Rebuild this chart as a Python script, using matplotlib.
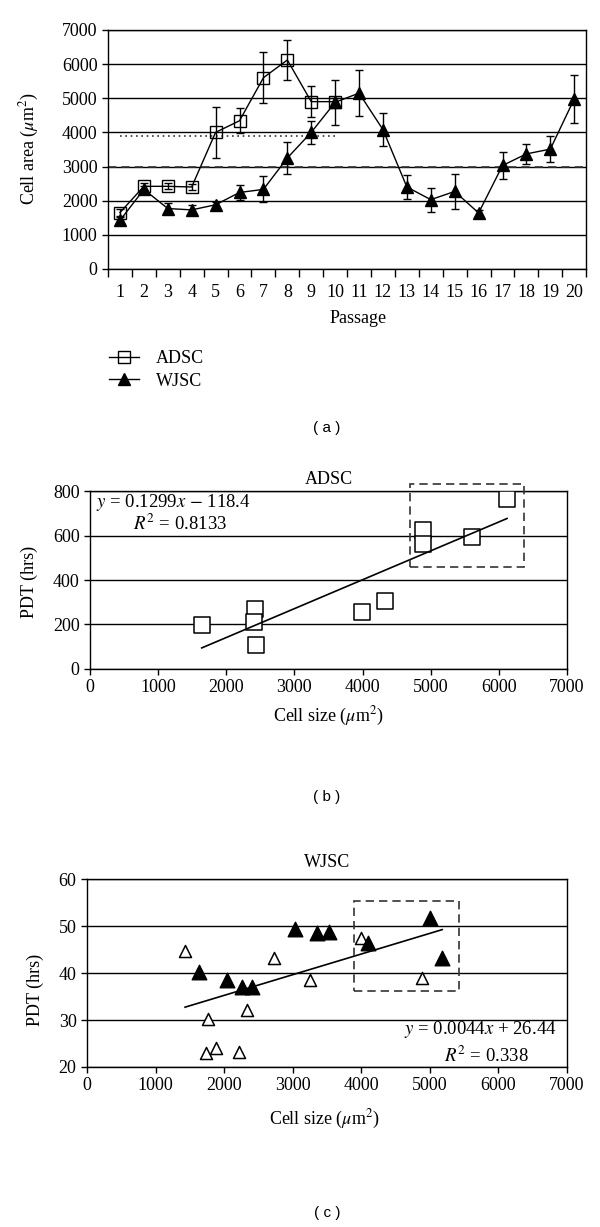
import matplotlib
matplotlib.use("Agg")
import matplotlib.pyplot as plt
from matplotlib.lines import Line2D
from matplotlib.patches import Rectangle

plt.rcParams["font.family"] = ["Liberation Serif", "DejaVu Serif"]
plt.rcParams["mathtext.fontset"] = "stix"
FS = 13

# ---- panel (a): cell area per passage
passages = list(range(1, 21))
adsc_area = [1650, 2420, 2420, 2400, 4000, 4340, 5600, 6120, 4900, 4900]
adsc_err = [100, 100, 90, 100, 750, 370, 750, 590, 450, 120]
wjsc_area = [1420, 2330, 1770, 1730, 1880, 2240, 2330, 3250, 4000, 4880,
             5150, 4080, 2400, 2030, 2270, 1640, 3030, 3370, 3510, 4980]
wjsc_err = [90, 110, 170, 150, 80, 220, 380, 460, 330, 650,
            670, 490, 350, 350, 510, 100, 385, 290, 390, 710]
adsc_mean_line = 3880
wjsc_mean_line = 2980

# ---- panel (b): ADSC PDT vs cell size
adsc_size = [1640, 2420, 2400, 2440, 3990, 4330, 4890, 4890, 5600, 6120]
adsc_pdt = [196, 269, 213, 109, 258, 304, 627, 564, 594, 766]
adsc_fit = (0.1299, -118.4)
adsc_box = (4700, 457, 6370, 833)

# ---- panel (c): WJSC PDT vs cell size
wj_open_size = [1430, 1770, 1740, 1875, 2220, 2330, 2730, 3250, 4000, 4885]
wj_open_pdt = [44.6, 30.3, 23.0, 24.1, 23.2, 32.1, 43.3, 38.5, 47.4, 38.9]
wj_fill_size = [1640, 2035, 2260, 2400, 3040, 3360, 3530, 4095, 4995, 5180]
wj_fill_pdt = [40.3, 38.6, 37.1, 37.1, 49.3, 48.5, 48.8, 46.3, 51.7, 43.3]
wjsc_fit = (0.0044, 26.44)
wjsc_box = (3900, 36.2, 5430, 55.4)

fig = plt.figure(figsize=(6, 12.27), dpi=100)


def style_axes(ax):
    for s in ax.spines.values():
        s.set_linewidth(1.0)
        s.set_color("black")
    ax.tick_params(direction="out", length=4, width=1, labelsize=FS, colors="black")
    ax.yaxis.grid(True, color="black", lw=1.0)
    ax.set_axisbelow(True)


# ================= (a)
ax = fig.add_axes([0.18, 0.7808, 0.797, 0.1948])
style_axes(ax)
ax.axhline(wjsc_mean_line, color="#333333", lw=1.2, ls=(0, (5, 3)), zorder=1)
ax.plot([passages[0], passages[len(adsc_area) - 1]], [adsc_mean_line] * 2,
        color="#333333", lw=1.2, ls=(0, (1, 2.2)), zorder=1)
ax.errorbar(passages[:len(adsc_area)], adsc_area, yerr=adsc_err, color="black", lw=1,
            elinewidth=1, capsize=3, marker="s", ms=8, mfc="none", mec="black", mew=1, zorder=3)
ax.errorbar(passages, wjsc_area, yerr=wjsc_err, color="black", lw=1, elinewidth=1,
            capsize=3, marker="^", ms=9, mfc="black", mec="black", zorder=4)
ax.set_xlim(0.5, 20.5)
ax.set_ylim(0, 7000)
ax.set_yticks(range(0, 7001, 1000))
ax.set_xticks([p - 0.5 for p in passages] + [20.5])
ax.set_xticklabels([])
ax.set_xticks(passages, minor=True)
ax.set_xticklabels([str(p) for p in passages], minor=True)
ax.tick_params(axis="x", which="minor", length=0, pad=11, labelsize=FS)
ax.tick_params(axis="x", which="major", length=6)
ax.set_xlabel("Passage", fontsize=FS)
ax.xaxis.set_label_coords(0.523, -0.17)
ax.set_ylabel(r"Cell area ($\mu$m$^2$)", fontsize=FS)
ax.yaxis.set_label_coords(-0.14, 0.506)

handles = [Line2D([], [], color="black", lw=1, marker="s", ms=8, mfc="none", mec="black"),
           Line2D([], [], color="black", lw=1, marker="^", ms=9, mfc="black")]
fig.legend(handles, ["ADSC", "WJSC"], loc="upper left", bbox_to_anchor=(0.155, 1 - 334 / 1227),
           frameon=False, fontsize=FS, handlelength=1.65, handletextpad=0.95, labelspacing=0.3)
fig.text(327 / 600, 1 - 428 / 1227, "( a )", family="Liberation Sans", fontsize=11,
         ha="center", va="center")

# ================= (b)
ax = fig.add_axes([0.15, 0.4548, 0.795, 0.145])
style_axes(ax)
ax.scatter(adsc_size, adsc_pdt, marker="s", s=125, facecolor="white", edgecolor="black",
           lw=1.1, zorder=3)
xs = [min(adsc_size), max(adsc_size)]
ax.plot(xs, [adsc_fit[0] * x + adsc_fit[1] for x in xs], color="black", lw=1.2, zorder=4)
x0, y0, x1, y1 = adsc_box
ax.add_patch(Rectangle((x0, y0), x1 - x0, y1 - y0, fill=False, ls=(0, (5, 3)), lw=1.2,
                       ec="#333333", clip_on=False, zorder=5))
ax.set_xlim(0, 7000)
ax.set_ylim(0, 800)
ax.set_xticks(range(0, 7001, 1000))
ax.set_yticks(range(0, 801, 200))
ax.set_title("ADSC", fontsize=FS, pad=5)
ax.set_xlabel(r"Cell size ($\mu$m$^2$)", fontsize=FS)
ax.xaxis.set_label_coords(0.501, -0.2)
ax.set_ylabel("PDT (hrs)", fontsize=FS)
ax.yaxis.set_label_coords(-0.108, 0.49)
ax.text(0.012, 0.938, r"$y$ = 0.1299$x$ $-$ 118.4", transform=ax.transAxes, fontsize=13.5,
        va="center", ha="left")
ax.text(0.09, 0.815, r"$R^2$ = 0.8133", transform=ax.transAxes, fontsize=13.5,
        va="center", ha="left")
fig.text(327 / 600, 1 - 797 / 1227, "( b )", family="Liberation Sans", fontsize=11,
         ha="center", va="center")

# ================= (c)
ax = fig.add_axes([0.145, 0.1304, 0.80, 0.1532])
style_axes(ax)
ax.scatter(wj_open_size, wj_open_pdt, marker="^", s=75, facecolor="white", edgecolor="black",
           lw=1.1, zorder=3)
ax.scatter(wj_fill_size, wj_fill_pdt, marker="^", s=110, facecolor="black", edgecolor="black",
           zorder=3)
allx = wj_open_size + wj_fill_size
xs = [min(allx), max(allx)]
ax.plot(xs, [wjsc_fit[0] * x + wjsc_fit[1] for x in xs], color="black", lw=1.2, zorder=4)
x0, y0, x1, y1 = wjsc_box
ax.add_patch(Rectangle((x0, y0), x1 - x0, y1 - y0, fill=False, ls=(0, (5, 3)), lw=1.2,
                       ec="#333333", clip_on=False, zorder=5))
ax.set_xlim(0, 7000)
ax.set_ylim(20, 60)
ax.set_xticks(range(0, 7001, 1000))
ax.set_yticks(range(20, 61, 10))
ax.set_title("WJSC", fontsize=FS, pad=9)
ax.set_xlabel(r"Cell size ($\mu$m$^2$)", fontsize=FS)
ax.xaxis.set_label_coords(0.494, -0.215)
ax.set_ylabel("PDT (hrs)", fontsize=FS)
ax.yaxis.set_label_coords(-0.09, 0.41)
ax.text(0.979, 0.197, r"$y$ = 0.0044$x$ + 26.44", transform=ax.transAxes, fontsize=13.5,
        va="center", ha="right")
ax.text(0.921, 0.059, r"$R^2$ = 0.338", transform=ax.transAxes, fontsize=13.5,
        va="center", ha="right")
fig.text(327 / 600, 1 - 1213 / 1227, "( c )", family="Liberation Sans", fontsize=11,
         ha="center", va="center")

fig.savefig("out.png", dpi=100, facecolor="white")
